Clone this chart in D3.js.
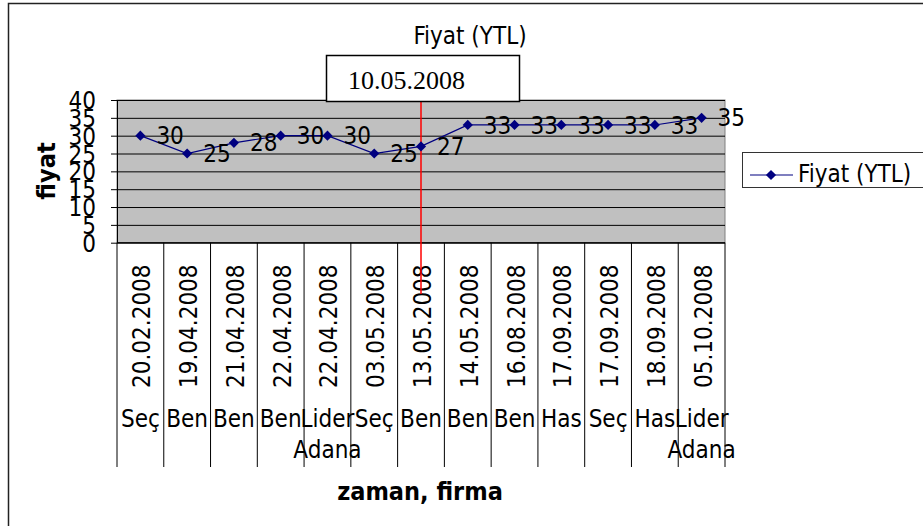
<!DOCTYPE html>
<html>
<head>
<meta charset="utf-8">
<script src="https://cdn.jsdelivr.net/npm/d3@7"></script>
<style>
  body { margin: 0; background: #fff; }
  svg text { font-family: "DejaVu Sans Condensed", "DejaVu Sans", sans-serif; font-stretch: condensed; fill: #000; }
  .bold { font-weight: bold; }
</style>
</head>
<body>
<div id="chart"></div>
<script>
// data
var dates = ["20.02.2008", "19.04.2008", "21.04.2008", "22.04.2008", "22.04.2008", "03.05.2008",
             "13.05.2008", "14.05.2008", "16.08.2008", "17.09.2008", "17.09.2008", "18.09.2008", "05.10.2008"];
var firms = ["Seç", "Ben", "Ben", "Ben", "Lider Adana", "Seç", "Ben", "Ben", "Ben", "Has", "Seç", "Has", "Lider Adana"];
var prices = [30, 25, 28, 30, 30, 25, 27, 33, 33, 33, 33, 33, 35];
var yTicks = [0, 5, 10, 15, 20, 25, 30, 35, 40];
var markDate = "10.05.2008";
var markAt = 6; // the red line sits on the 13.05.2008 point

var width = 923;
var height = 526;
var plot = { left: 117, right: 725, top: 100, bottom: 242.7 };
var navy = "#000080";

var svg = d3.select("#chart")
  .append("svg")
  .attr("width", width)
  .attr("height", height);

// outer chart frame (right and bottom run off the picture)
svg.append("rect")
  .attr("x", 8.5).attr("y", 3.5)
  .attr("width", 940).attr("height", 540)
  .attr("fill", "none")
  .attr("stroke", "#222")
  .attr("stroke-width", 1.5);

var idx = d3.range(dates.length);

var x = d3.scaleBand()
  .domain(idx)
  .range([plot.left, plot.right]);

var y = d3.scaleLinear()
  .domain([0, 40])
  .range([plot.bottom, plot.top]);

var cx = function(i) { return x(i) + x.bandwidth() / 2; };

// plot area
svg.append("rect")
  .attr("x", plot.left).attr("y", plot.top)
  .attr("width", plot.right - plot.left)
  .attr("height", plot.bottom - plot.top)
  .attr("fill", "#c0c0c0")
  .attr("stroke", "#808080");

// gridlines
svg.append("g")
  .attr("transform", "translate(" + plot.left + ",0)")
  .call(d3.axisLeft(y).tickValues(yTicks).tickSize(-(plot.right - plot.left)).tickFormat(""))
  .call(function(g) { g.select(".domain").remove(); })
  .selectAll("line").attr("stroke", "#000");

// y axis
var yAxis = svg.append("g")
  .attr("transform", "translate(" + plot.left + ",0)")
  .call(d3.axisLeft(y).tickValues(yTicks).tickSize(6).tickPadding(15).tickSizeOuter(0));
yAxis.selectAll("text")
  .style("font-size", "24px")
  .attr("dy", "0.36em");
yAxis.selectAll("line, path").attr("stroke", "#000");

// x axis line
svg.append("line")
  .attr("x1", plot.left).attr("x2", plot.right)
  .attr("y1", y(0)).attr("y2", y(0))
  .attr("stroke", "#000");

// category separators, through both label levels
var edges = idx.map(function(i) { return x(i); }).concat([x.range()[1]]);
svg.append("g")
  .selectAll("line")
  .data(edges)
  .enter()
  .append("line")
  .attr("x1", function(d) { return d; })
  .attr("x2", function(d) { return d; })
  .attr("y1", y(0))
  .attr("y2", 467)
  .attr("stroke", "#000");

// date labels (rotated)
svg.append("g")
  .selectAll("text")
  .data(idx)
  .enter()
  .append("text")
  .attr("transform", function(i) { return "translate(" + (cx(i) + 10) + ",388) rotate(-90)"; })
  .style("font-size", "24px")
  .text(function(i) { return dates[i]; });

// firm labels, wrapped on the space
var firmG = svg.append("g")
  .selectAll("text")
  .data(idx)
  .enter()
  .append("text")
  .attr("x", function(i) { return cx(i); })
  .attr("y", 427)
  .attr("text-anchor", "middle")
  .style("font-size", "24px");

firmG.selectAll("tspan")
  .data(function(i) { return firms[i].split(" "); })
  .enter()
  .append("tspan")
  .attr("x", function() { return d3.select(this.parentNode).attr("x"); })
  .attr("dy", function(d, j) { return j === 0 ? 0 : 31; })
  .text(function(d) { return d; });

// red marker line + date box
svg.append("line")
  .attr("x1", cx(markAt)).attr("x2", cx(markAt))
  .attr("y1", 102).attr("y2", 294)
  .attr("stroke", "#ff0000")
  .attr("stroke-width", 1.5);

svg.append("rect")
  .attr("x", 326.5).attr("y", 55.5)
  .attr("width", 193).attr("height", 46)
  .attr("fill", "#fff")
  .attr("stroke", "#000")
  .attr("stroke-width", 1.5);

svg.append("text")
  .attr("x", 348).attr("y", 89)
  .style("font-family", "'Liberation Serif', serif")
  .style("font-stretch", "normal")
  .style("font-size", "26px")
  .text(markDate);

// the series
svg.append("path")
  .datum(idx)
  .attr("fill", "none")
  .attr("stroke", navy)
  .attr("stroke-width", 1.2)
  .attr("d", d3.line()
    .x(function(i) { return cx(i); })
    .y(function(i) { return y(prices[i]); })
  );

// square turned 45deg, like the Excel diamond
var diamond = d3.symbol().type(d3.symbolSquare).size(52);

svg.append("g")
  .selectAll("path")
  .data(idx)
  .enter()
  .append("path")
  .attr("d", diamond)
  .attr("transform", function(i) { return "translate(" + cx(i) + "," + y(prices[i]) + ") rotate(45)"; })
  .attr("fill", navy);

svg.append("g")
  .selectAll("text")
  .data(idx)
  .enter()
  .append("text")
  .attr("x", function(i) { return cx(i) + 16; })
  .attr("y", function(i) { return y(prices[i]); })
  .attr("dy", "0.36em")
  .style("font-size", "24px")
  .text(function(i) { return prices[i]; });

// title
svg.append("text")
  .attr("x", 470).attr("y", 44)
  .attr("text-anchor", "middle")
  .style("font-size", "24px")
  .text("Fiyat (YTL)");

// axis titles
svg.append("text")
  .attr("class", "bold")
  .attr("transform", "translate(55,171) rotate(-90)")
  .attr("text-anchor", "middle")
  .style("font-size", "25px")
  .text("fiyat");

svg.append("text")
  .attr("class", "bold")
  .attr("x", 420).attr("y", 500)
  .attr("text-anchor", "middle")
  .style("font-size", "25px")
  .text("zaman, firma");

// legend
svg.append("rect")
  .attr("x", 742.5).attr("y", 152.5)
  .attr("width", 200).attr("height", 35)
  .attr("fill", "#fff")
  .attr("stroke", "#333");

svg.append("line")
  .attr("x1", 750).attr("x2", 793)
  .attr("y1", 175).attr("y2", 175)
  .attr("stroke", navy)
  .attr("stroke-width", 1.2);

svg.append("path")
  .attr("d", diamond)
  .attr("transform", "translate(771,175) rotate(45)")
  .attr("fill", navy);

svg.append("text")
  .attr("x", 798).attr("y", 182)
  .style("font-size", "24px")
  .text("Fiyat (YTL)");
</script>
</body>
</html>
